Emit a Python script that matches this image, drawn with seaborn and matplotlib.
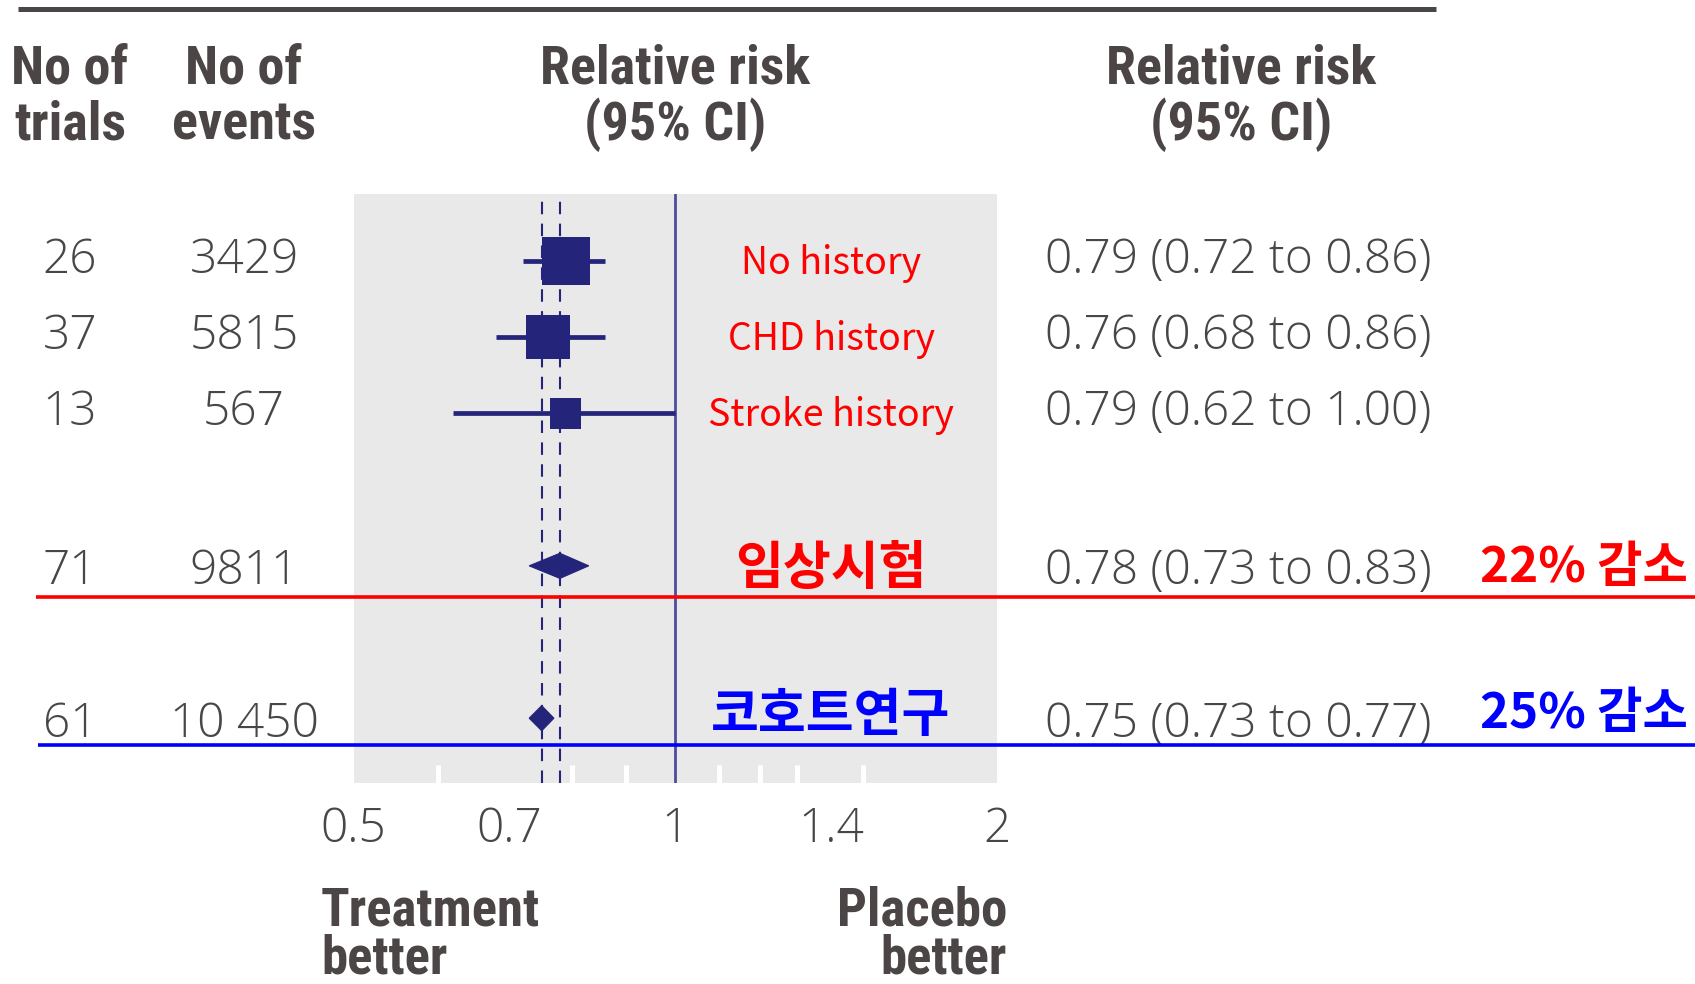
import matplotlib
matplotlib.use("Agg")
import matplotlib.pyplot as plt
import matplotlib.transforms as mtransforms
from matplotlib.ticker import FixedLocator, NullFormatter, FixedFormatter
import pandas as pd
import seaborn as sns

# ---- data -----------------------------------------------------------------
subgroups = ["No history", "CHD history", "Stroke history"]
sub_trials = ["26", "37", "13"]
sub_events = ["3429", "5815", "567"]
sub_rr = [0.79, 0.76, 0.79]
sub_lo = [0.72, 0.68, 0.62]
sub_hi = [0.86, 0.86, 1.00]

pooled = ["임상시험", "코호트연구"]
pooled_trials = ["71", "61"]
pooled_events = ["9811", "10 450"]
pooled_rr = [0.78, 0.75]
pooled_lo = [0.73, 0.73]
pooled_hi = [0.83, 0.77]
pooled_change = ["22% 감소", "25% 감소"]

tick_values = [0.5, 0.7, 1, 1.4, 2]
tick_labels = ["0.5", "0.7", "1", "1.4", "2"]
minor_values = [0.6, 0.7, 0.8, 0.9, 1.1, 1.2, 1.3, 1.4, 1.5]

# ---- styling ----------------------------------------------------------------
W, H = 1695, 984
NAVY = "#24247a"
REF_LINE = "#4c4c9c"
PANEL = "#e9e9e9"
HEAD = "#4b4545"
NUM = "#474747"
RED = "#ff0000"
BLUE = "#0000ff"

sub_rows = [0, 1, 2]
pooled_rows = [4, 6]
box_pt = [34.5, 31.5, 22.5]          # marker side in points
diamond_half = 0.165                  # half height of pooled diamonds (row units)

sns.set_theme(style="white")
plt.rcParams["font.family"] = ["Open Sans", "Noto Sans CJK KR", "DejaVu Sans"]

BOLD_FAMILY = ["Roboto Condensed", "Fira Sans Condensed", "Open Sans Condensed", "DejaVu Sans"]
HEAD_FONT = dict(family=BOLD_FAMILY, weight="bold", color=HEAD)
NUM_SIZE = 34.5
NUM_FONT = dict(family=["Open Sans", "DejaVu Sans"], weight="light", color=NUM, fontsize=NUM_SIZE)
KR_FONT = ["Noto Sans CJK KR", "DejaVu Sans"]

fig = plt.figure(figsize=(W / 100, H / 100), dpi=100)

# forest panel
left, right, top, bottom = 353.5, 997, 193.5, 783
ax = fig.add_axes([left / W, 1 - bottom / H, (right - left) / W, (bottom - top) / H], zorder=1)
ax.set_facecolor(PANEL)
ax.set_xscale("log", base=2)
ax.set_xlim(0.5, 2)
ax.set_ylim(6.85, -0.886)
for s in ax.spines.values():
    s.set_visible(False)

# transparent full-figure canvas in pixel units, drawn over the panel
canvas = fig.add_axes([0, 0, 1, 1], zorder=2)
canvas.set_xlim(0, W)
canvas.set_ylim(H, 0)
canvas.axis("off")

# reference line at no effect and dashed lines at the pooled estimates
ax.axvline(1, color=REF_LINE, lw=2.0, zorder=2)
for v in pooled_rr:
    ax.axvline(v, color=NAVY, lw=1.5, ls=(0, (6, 4.5)), zorder=2)

# confidence intervals and boxes for the subgroups
sub_df = pd.DataFrame({"rr": sub_rr, "lo": sub_lo, "hi": sub_hi, "row": sub_rows})
ax.hlines(sub_df["row"], sub_df["lo"], sub_df["hi"], color=NAVY, lw=3.4, zorder=3)
sns.scatterplot(data=sub_df, x="rr", y="row", marker="s", s=[b ** 2 for b in box_pt],
                color=NAVY, linewidth=0, legend=False, ax=ax, zorder=4)

# pooled diamonds
for rr, lo, hi, row in zip(pooled_rr, pooled_lo, pooled_hi, pooled_rows):
    ax.fill([lo, rr, hi, rr], [row, row - diamond_half, row, row + diamond_half],
            color=NAVY, lw=0.8, ec=NAVY, zorder=4)

# axis ticks: white notches inside the panel, labels below
ax.xaxis.set_major_locator(FixedLocator(tick_values))
ax.xaxis.set_major_formatter(FixedFormatter(tick_labels))
ax.xaxis.set_minor_locator(FixedLocator(minor_values))
ax.xaxis.set_minor_formatter(NullFormatter())
ax.tick_params(axis="x", which="major", length=0, pad=16, labelsize=NUM_SIZE,
               labelcolor=NUM)
ax.tick_params(axis="x", which="minor", direction="in", length=13, width=3.6,
               color="white", bottom=True)
for lab in ax.get_xticklabels():
    lab.set_fontweight("light")
    lab.set_family(["Open Sans", "DejaVu Sans"])
ax.set_yticks([])
ax.set_xlabel("")
ax.set_ylabel("")

# text placed at canvas x (pixels) and panel y (rows)
row_tr = mtransforms.blended_transform_factory(canvas.transData, ax.transData)


def put(x, row, s, dy=0.0, **kw):
    canvas.text(x, row + dy, s, transform=row_tr, clip_on=False, **kw)


col_trials, col_events, col_label, col_ci, col_change = 70, 244, 831, 1045, 1480

for i, row in enumerate(sub_rows):
    put(col_trials, row, sub_trials[i], dy=-0.01, ha="center", va="center", **NUM_FONT)
    put(col_events, row, sub_events[i], dy=-0.01, ha="center", va="center", **NUM_FONT)
    put(col_ci, row, f"{sub_rr[i]:.2f} ({sub_lo[i]:.2f} to {sub_hi[i]:.2f})", dy=-0.01,
        ha="left", va="center", **NUM_FONT)
    put(col_label, row, subgroups[i], dy=0.03, ha="center", va="center",
        family=KR_FONT, fontsize=27, color=RED)

pooled_colors = [RED, BLUE]
label_dy = [0.04, -0.04]
change_dy = [0.02, -0.06]
for i, row in enumerate(pooled_rows):
    put(col_trials, row, pooled_trials[i], dy=0.08, ha="center", va="center", **NUM_FONT)
    put(col_events, row, pooled_events[i], dy=0.08, ha="center", va="center", **NUM_FONT)
    put(col_ci, row, f"{pooled_rr[i]:.2f} ({pooled_lo[i]:.2f} to {pooled_hi[i]:.2f})",
        dy=0.08, ha="left", va="center", **NUM_FONT)
    put(col_label, row, pooled[i], dy=label_dy[i], ha="center", va="center",
        family=KR_FONT, fontsize=37.5, weight="bold", color=pooled_colors[i])
    put(col_change, row, pooled_change[i], dy=change_dy[i], ha="left", va="center",
        family=KR_FONT, fontsize=35.5, weight="bold", color=pooled_colors[i])

# underline rules beneath the pooled rows, running to the right edge
for row_y, x0, c in [(4.405, 36, RED), (6.35, 38, BLUE)]:
    canvas.plot([x0, W], [row_y, row_y], transform=row_tr, color=c, lw=2.6,
                clip_on=False, zorder=5, solid_capstyle="butt")

# rule across the top
canvas.plot([18, 1436], [8.5, 8.5], color="#4a4646", lw=3.6, solid_capstyle="butt")

# column headings
HEAD_SIZE = 39
for x, lines in [(70, ["No of", "trials"]), (244, ["No of", "events"]),
                 (675, ["Relative risk", "(95% CI)"]), (1241, ["Relative risk", "(95% CI)"])]:
    for j, line in enumerate(lines):
        canvas.text(x, 69 + 56 * j, line, ha="center", va="center", fontsize=HEAD_SIZE,
                    **HEAD_FONT)

# direction notes under the axis
FOOT_SIZE = 38
canvas.text(321, 935, "Treatment\nbetter", ha="left", va="center", multialignment="left",
            linespacing=0.9, fontsize=FOOT_SIZE, **HEAD_FONT)
canvas.text(1007, 935, "Placebo\nbetter", ha="right", va="center", multialignment="right",
            linespacing=0.9, fontsize=FOOT_SIZE, **HEAD_FONT)

fig.savefig("out.png", dpi=100)
